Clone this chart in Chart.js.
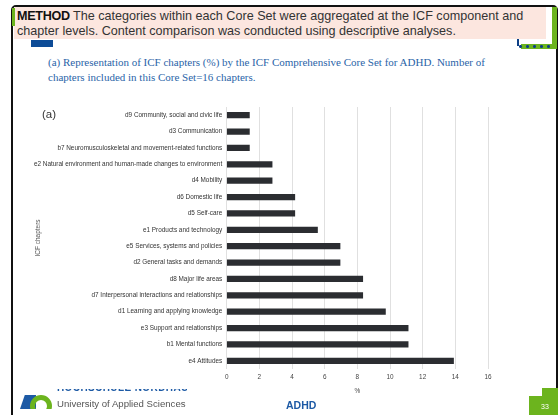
<!DOCTYPE html>
<html lang="en">
<head>
    <meta charset="UTF-8">
    <title>ICF chapters ADHD</title>
    <style>
        body { margin: 0; width: 560px; height: 415px; background: #fff; overflow: hidden; position: relative; font-family: "Liberation Sans", Arial, sans-serif; }
        .frame { position: absolute; left: 11px; top: 5px; width: 547px; height: 420px; border: 2px solid #111; border-radius: 5px; box-sizing: border-box; }
        .header { position: absolute; left: 14px; top: 7px; width: 532px; height: 32px; background: #fce6df; }
        .header p { margin: 0; padding: 1.5px 0 0 3px; font-size: 12.6px; line-height: 15.5px; color: #333; }
        .header b { font-weight: bold; color: #111; letter-spacing: -0.3px; }
        .gbar-l { position: absolute; left: 12px; top: 8px; width: 2.5px; height: 18px; background: #6cb41e; }
        .gbar-r { position: absolute; left: 552px; top: 7px; width: 5px; height: 42px; background: #6cb41e; }
        .gbar-h { position: absolute; left: 521px; top: 44px; width: 36px; height: 5px; background: #6cb41e; }
        .dots { position: absolute; left: 517px; top: 45px; width: 36px; height: 3px;
                background: radial-gradient(circle, #0d3f86 1.3px, transparent 1.6px) 0 0 / 7px 3px repeat-x; }
        .brk { position: absolute; left: 517px; top: 39px; width: 1.5px; height: 7px; background: #0d3f86; }
        .bluebox { position: absolute; left: 31px; top: 40px; width: 22px; height: 7px; background: #0d4c97; }
        .caption { position: absolute; left: 48px; top: 55px; width: 470px; font-family: "Liberation Serif", serif; font-size: 11px; line-height: 14.5px; color: #2a64a8; }
        .tag { position: absolute; left: 42px; top: 108px; font-size: 11.5px; color: #333; }
        #chartBox { position: absolute; left: 30px; top: 96px; width: 475px; height: 303px; }
        .cut { position: absolute; left: 57px; top: 389px; width: 130px; height: 4px; overflow: hidden; }
        .cut span { position: absolute; left: 0; top: -7px; font-size: 10px; font-weight: bold; color: #1d5aa5; letter-spacing: 0.4px; white-space: nowrap; }
        .uni { position: absolute; left: 57px; top: 398px; font-size: 9.6px; color: #555; white-space: nowrap; }
        .logo-b { position: absolute; left: 20px; top: 395px; width: 16px; height: 14px; background: #1d5aa5; clip-path: polygon(30% 0, 100% 0, 100% 100%, 0 100%); }
        .logo-g { position: absolute; left: 30px; top: 395px; width: 22px; height: 22px; border-radius: 50%; border: 5px solid #6cb41e; box-sizing: border-box; clip-path: inset(0 0 36% 0); }
        .adhd { position: absolute; left: 286px; top: 399px; font-size: 10.5px; font-weight: bold; color: #1d5aa5; }
        .pg1 { position: absolute; left: 542px; top: 388px; width: 16px; height: 10px; background: #6cb41e; }
        .pg2 { position: absolute; left: 529px; top: 396px; width: 29px; height: 20px; background: #6cb41e; }
        .pgnum { position: absolute; left: 541px; top: 403px; font-size: 7px; color: #fff; }
    </style>
</head>
<body>
    <div class="frame"></div>
    <div class="header"><p><b>METHOD</b> The categories within each Core Set were aggregated at the ICF component and chapter levels. Content comparison was conducted using descriptive analyses.</p></div>
    <div class="gbar-l"></div>
    <div class="gbar-r"></div>
    <div class="gbar-h"></div>
    <div class="brk"></div>
    <div class="dots"></div>
    <div class="bluebox"></div>
    <div class="caption">(a) Representation of ICF chapters (%) by the ICF Comprehensive Core Set for ADHD. Number of chapters included in this Core Set=16 chapters.</div>

    <div id="chartBox"><canvas id="chart"></canvas></div>
    <div class="tag">(a)</div>

    <div class="logo-b"></div>
    <div class="logo-g"></div>
    <div class="cut"><span>HOCHSCHULE NORDHAUSEN</span></div>
    <div class="uni">University of Applied Sciences</div>
    <div class="adhd">ADHD</div>
    <div class="pg1"></div>
    <div class="pg2"></div>
    <div class="pgnum">33</div>

    <script src="https://cdn.jsdelivr.net/npm/chart.js"></script>
    <script>
        const chapters = [
            "d9 Community, social and civic life",
            "d3 Communication",
            "b7 Neuromusculoskeletal and movement-related functions",
            "e2 Natural environment and human-made changes to environment",
            "d4 Mobility",
            "d6 Domestic life",
            "d5 Self-care",
            "e1 Products and technology",
            "e5 Services, systems and policies",
            "d2 General tasks and demands",
            "d8 Major life areas",
            "d7 Interpersonal interactions and relationships",
            "d1 Learning and applying knowledge",
            "e3 Support and relationships",
            "b1 Mental functions",
            "e4 Attitudes"
        ]
        const percent = [1.39, 1.39, 1.39, 2.78, 2.78, 4.17, 4.17, 5.56, 6.94, 6.94, 8.33, 8.33, 9.72, 11.11, 11.11, 13.89]
        const xTicks = [0, 2, 4, 6, 8, 10, 12, 14, 16]

        const labelFont = { family: "'Liberation Sans', Arial, sans-serif", size: 6.4 }

        new Chart(document.getElementById('chart'), {
            type: 'bar',
            data: {
                labels: chapters,
                datasets: [{
                    data: percent,
                    backgroundColor: '#2b2d31',
                    barThickness: 5.5
                }]
            },
            options: {
                indexAxis: 'y',
                responsive: true,
                maintainAspectRatio: false,
                animation: false,
                layout: { padding: { top: 11, right: 17, left: 0, bottom: 0 } },
                plugins: { legend: { display: false }, tooltip: { enabled: false } },
                scales: {
                    x: {
                        min: 0,
                        max: 16,
                        afterBuildTicks: axis => { axis.ticks = xTicks.map(v => ({ value: v })) },
                        afterFit: axis => { axis.height = 30 },
                        grid: { color: '#e0e0e0', lineWidth: 1, drawTicks: false },
                        border: { display: false },
                        ticks: { font: labelFont, color: '#444', padding: 4 },
                        title: { display: true, text: '%', font: labelFont, color: '#444' }
                    },
                    y: {
                        afterFit: axis => { axis.width = 196.7 },
                        grid: { display: false, drawTicks: false },
                        border: { display: false },
                        ticks: { font: labelFont, color: '#333', padding: 4.5, autoSkip: false },
                        title: { display: true, text: 'ICF chapters', font: { family: labelFont.family, size: 6.5 }, color: '#555' }
                    }
                }
            }
        })
    </script>
</body>
</html>
